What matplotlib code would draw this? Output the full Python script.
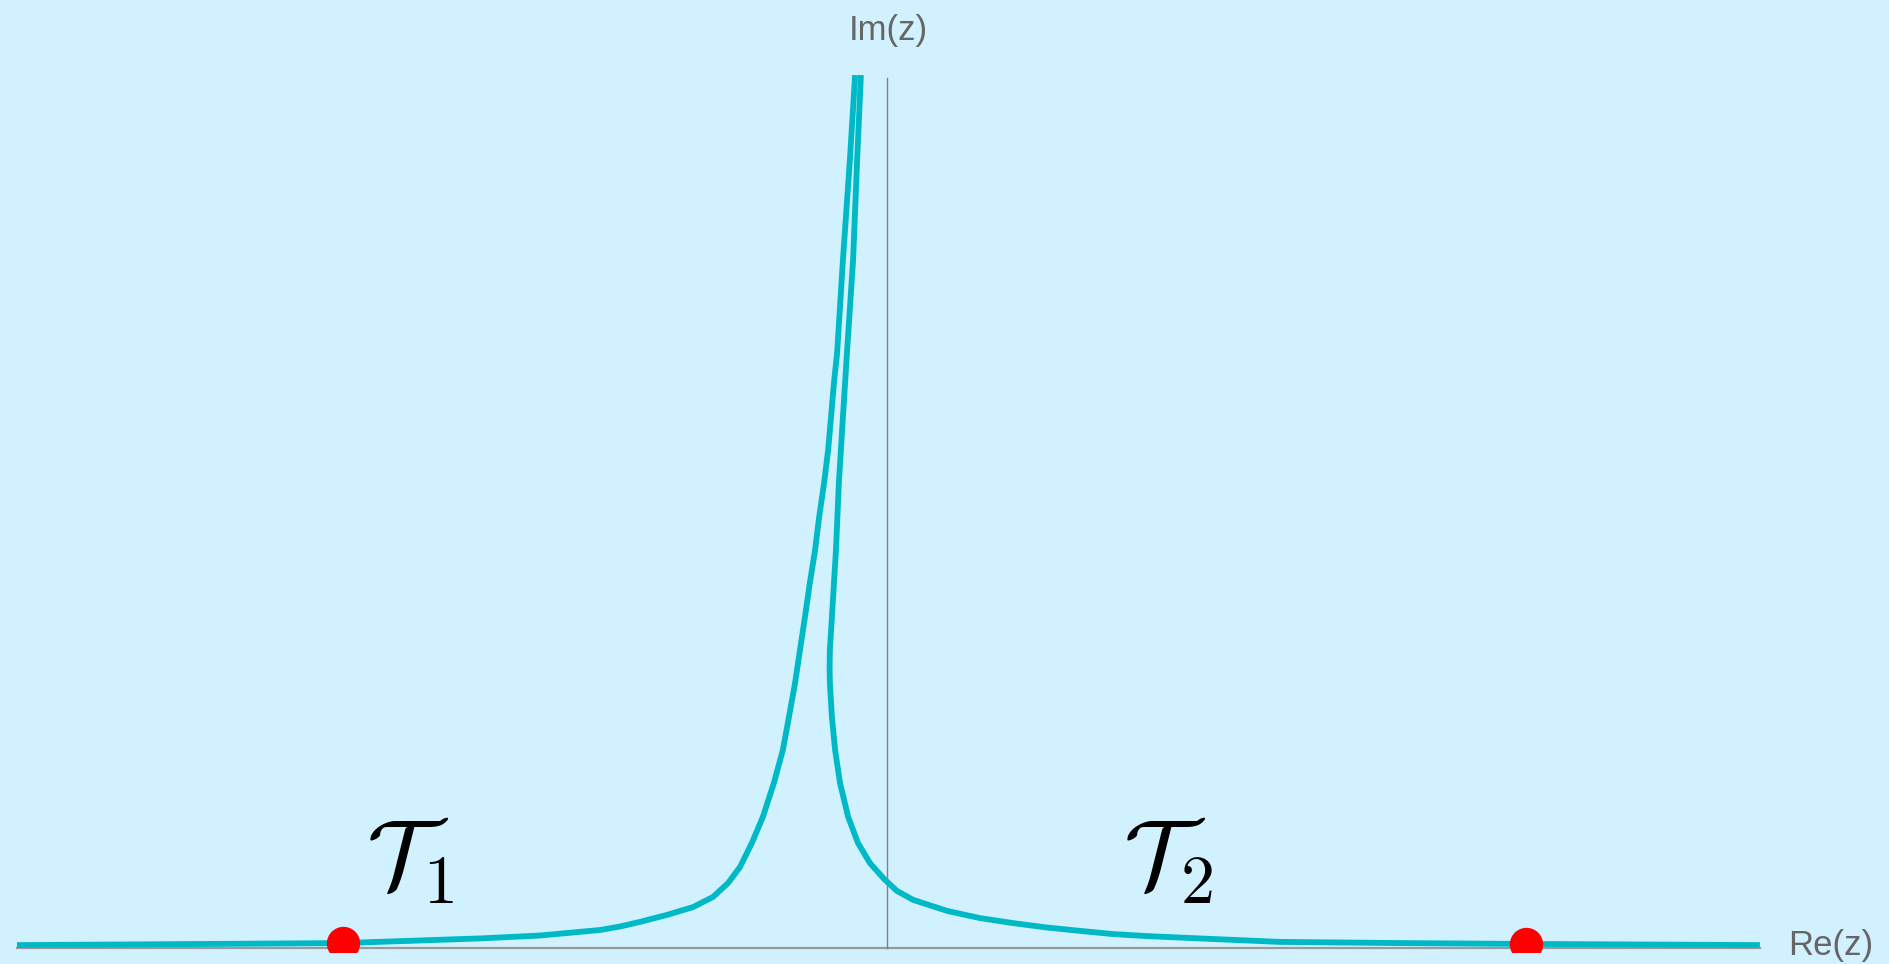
import matplotlib.pyplot as plt
import numpy as np

plt.rcParams['mathtext.fontset'] = 'cm'

# first contour, coming in along the left of the real axis and rising up the spike
re_1 = [-3.000, -2.645, -1.876, -1.610, -1.403, -1.197, -0.990, -0.921, -0.852,
        -0.759, -0.669, -0.600, -0.548, -0.507, -0.466, -0.428, -0.390, -0.359,
        -0.338, -0.317, -0.300, -0.283, -0.266, -0.248, -0.234, -0.217, -0.203,
        -0.193, -0.183, -0.172, -0.152, -0.128, -0.110]
im_1 = [0.010, 0.012, 0.017, 0.026, 0.033, 0.043, 0.062, 0.074, 0.090,
        0.114, 0.141, 0.176, 0.224, 0.279, 0.362, 0.452, 0.569, 0.683,
        0.797, 0.914, 1.028, 1.141, 1.259, 1.372, 1.486, 1.603, 1.717,
        1.831, 1.948, 2.052, 2.372, 2.717, 3.010]

# second contour, down the spike and out along the right
re_2 = [-0.090, -0.103, -0.117, -0.138, -0.152, -0.166, -0.176, -0.190, -0.197,
        -0.198, -0.197, -0.190, -0.179, -0.162, -0.134, -0.100, -0.059, -0.010,
        0.034, 0.090, 0.207, 0.321, 0.434, 0.548, 0.666, 0.779, 0.897, 1.124,
        1.355, 1.769, 2.203, 2.597, 3.010]
im_2 = [3.010, 2.717, 2.372, 2.052, 1.831, 1.603, 1.372, 1.141, 1.028,
        0.969, 0.914, 0.797, 0.683, 0.569, 0.452, 0.362, 0.293, 0.238,
        0.197, 0.166, 0.128, 0.103, 0.086, 0.071, 0.059, 0.048, 0.041, 0.031,
        0.021, 0.017, 0.014, 0.012, 0.010]

# end points
pts_re = [-1.876, 2.203]
pts_im = [0.017, 0.014]

bg = '#d2f1ff'
cyan = '#00b9c6'

fig = plt.figure(figsize=(18.89, 9.64), dpi=100, facecolor=bg)
ax = fig.add_axes([0, 12 / 964, 1, 952 / 964])
ax.set_facecolor(bg)
ax.set_xlim(-887 / 290, (1889 - 887) / 290)
ax.set_ylim(-4 / 290, 948 / 290)
ax.axis('off')

# axes
ax.plot([-3.0, 3.01], [0, 0], color='#9a9a9a', lw=1.6, zorder=1)
ax.plot([0, 0], [0, 3.0], color='#808080', lw=1.0, zorder=1)

ax.plot(re_1, im_1, color=cyan, lw=4.2, solid_capstyle='butt',
        solid_joinstyle='round', zorder=2)
ax.plot(re_2, im_2, color=cyan, lw=4.2, solid_capstyle='butt',
        solid_joinstyle='round', zorder=2)
ax.plot(pts_re, pts_im, 'o', color='red', ms=24, mec='none', zorder=3)

ax.text(0.005, 3.165, 'Im(z)', fontsize=25, color='#666666', family='Liberation Sans',
        ha='center', va='center')
ax.text(3.40, 0.01, 'Re(z)', fontsize=25, color='#666666', family='Liberation Sans',
        ha='right', va='center')

ax.text(-1.645, 0.30, r'$\mathcal{T}_1$', fontsize=70, ha='center', va='center')
ax.text(0.969, 0.30, r'$\mathcal{T}_2$', fontsize=70, ha='center', va='center')

fig.savefig('out.png', dpi=100, facecolor=bg)
